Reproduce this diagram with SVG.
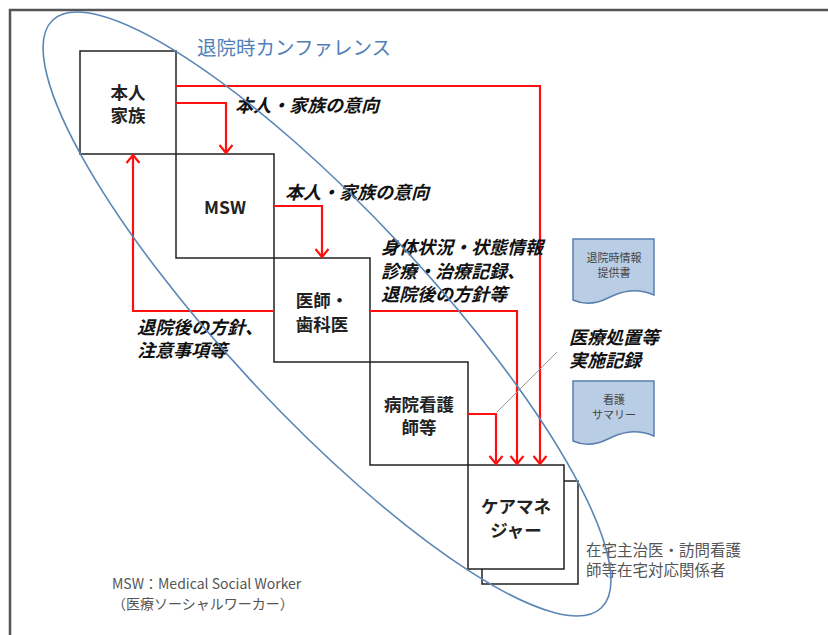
<svg xmlns="http://www.w3.org/2000/svg" width="828" height="635" viewBox="0 0 828 635">
<style>
.box{fill:#fff;stroke:#222;stroke-width:1.5}
.nl{font-family:"Noto Sans CJK JP","Noto Sans",sans-serif;font-weight:bold;font-size:17.5px;fill:#222;text-anchor:middle}
.lb{font-family:"Noto Sans CJK JP","Noto Sans",sans-serif;font-weight:bold;font-size:18px;fill:#111}
.doc{fill:#b9cde5;stroke:#5a7fae;stroke-width:1.5}
.dt{font-family:"Noto Sans CJK JP",sans-serif;font-size:11px;fill:#444;text-anchor:middle}
.gt{font-family:"Noto Sans CJK JP","Noto Sans",sans-serif;fill:#555}
.arr{fill:none;stroke:#ff1010;stroke-width:2.2;marker-end:url(#ah)}
</style>
<defs>
<marker id="ah" markerUnits="userSpaceOnUse" markerWidth="12" markerHeight="16" viewBox="0 -8 12 16" refX="9" refY="0" orient="auto">
<path d="M1,-6.5 L9,0 L1,6.5" fill="none" stroke="#ff1010" stroke-width="2.2"/>
</marker>
</defs>
<rect x="0" y="0" width="828" height="635" fill="#fff"/>
<rect x="10" y="10" width="840" height="650" fill="none" stroke="#555" stroke-width="2.5"/>

<text x="197" y="55" font-family="'Noto Sans CJK JP',sans-serif" font-size="19.5" fill="#4f7fb8">退院時カンファレンス</text>

<g id="node-honnin">
<rect class="box" x="80" y="51" width="96" height="103"/>
<text class="nl" x="128" y="99">本人</text>
<text class="nl" x="128" y="122">家族</text>
</g>
<g id="node-msw">
<rect class="box" x="176" y="154" width="98" height="104"/>
<text class="nl" x="225" y="214">MSW</text>
</g>
<g id="node-ishi">
<rect class="box" x="274" y="258" width="96" height="104"/>
<text class="nl" x="322" y="307">医師・</text>
<text class="nl" x="322" y="331">歯科医</text>
</g>
<g id="node-kango">
<rect class="box" x="370" y="362" width="98" height="103"/>
<text class="nl" x="419" y="411">病院看護</text>
<text class="nl" x="419" y="434">師等</text>
</g>
<g id="node-zaitaku">
<rect class="box" x="482" y="481" width="96" height="103"/>
<text class="gt" x="586" y="556" font-size="15.5">在宅主治医・訪問看護</text>
<text class="gt" x="586" y="576" font-size="15.5">師等在宅対応関係者</text>
</g>
<g id="node-caremane">
<rect class="box" x="468" y="465" width="96" height="104"/>
<text class="nl" x="516" y="513">ケアマネ</text>
<text class="nl" x="516" y="537">ジャー</text>
</g>

<g id="doc-taiin">
<path class="doc" d="M573,239 H654 V295 C634,287 620,292 608,298 C596,304 584,305 573,300 Z"/>
<text class="dt" x="614" y="262">退院時情報</text>
<text class="dt" x="614" y="277">提供書</text>
</g>
<g id="doc-summary">
<path class="doc" d="M573,381 H654 V436 C634,428 620,433 608,439 C596,445 584,446 573,441 Z"/>
<text class="dt" x="614" y="404">看護</text>
<text class="dt" x="614" y="419">サマリー</text>
</g>

<g id="connectors">
<path class="arr" d="M176,86 H540 V464"/>
<path class="arr" d="M176,103 H226 V153"/>
<path class="arr" d="M274,206 H322 V257"/>
<path class="arr" d="M370,311 H517 V464"/>
<path class="arr" d="M274,311 H133 V155"/>
<path class="arr" d="M468,414 H496 V464"/>
<line x1="557" y1="352" x2="497" y2="412" stroke="#999" stroke-width="1"/>
</g>

<g id="labels">
<g transform="translate(235,112) skewX(-15)"><text class="lb" x="0" y="0">本人・家族の意向</text></g>
<g transform="translate(285,199) skewX(-15)"><text class="lb" x="0" y="0">本人・家族の意向</text></g>
<g transform="translate(381,254) skewX(-15)"><text class="lb" x="0" y="0">身体状況・状態情報</text></g>
<g transform="translate(381,278) skewX(-15)"><text class="lb" x="0" y="0">診療・治療記録、</text></g>
<g transform="translate(381,301) skewX(-15)"><text class="lb" x="0" y="0">退院後の方針等</text></g>
<g transform="translate(137,334) skewX(-15)"><text class="lb" x="0" y="0">退院後の方針、</text></g>
<g transform="translate(137,357) skewX(-15)"><text class="lb" x="0" y="0">注意事項等</text></g>
<g transform="translate(569,344) skewX(-15)"><text class="lb" x="0" y="0">医療処置等</text></g>
<g transform="translate(569,367) skewX(-15)"><text class="lb" x="0" y="0">実施記録</text></g>
</g>

<g id="conference">
<ellipse cx="327" cy="314" rx="402" ry="101" transform="rotate(47 327 314)" fill="none" stroke="#5b86b5" stroke-width="1.6"/>
</g>

<g id="legend">
<text class="gt" x="112" y="589" font-size="14">MSW：Medical Social Worker</text>
<text class="gt" x="112" y="609" font-size="14">（医療ソーシャルワーカー）</text>
</g>
</svg>
